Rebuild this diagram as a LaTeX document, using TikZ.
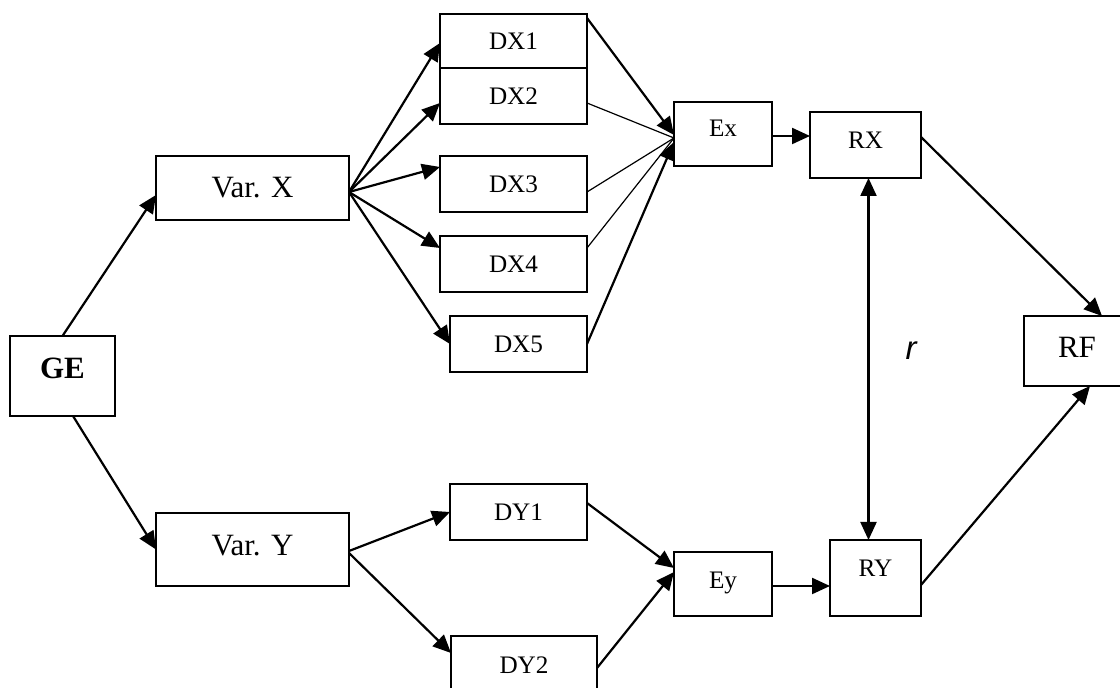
\documentclass[tikz,border=0pt]{standalone}
\usepackage{fontspec}
\setmainfont{Liberation Serif}
\newfontfamily\corrFont{Liberation Sans}
\usepackage{tikz}
\usetikzlibrary{arrows.meta, calc, positioning}
\newcommand{\bigLabelSize}{\fontsize{15.5}{18}\selectfont}
\newcommand{\smallLabelSize}{\fontsize{12.6}{15}\selectfont}
\tikzstyle{block}=[draw, line width=1pt, inner sep=0pt, outer sep=0pt]
\tikzstyle{bigBlock}=[block, font=\bigLabelSize]
\tikzstyle{smallBlock}=[block, font=\smallLabelSize]
\tikzstyle{arrow}=[-{Triangle[length=9pt, width=8pt]}, line width=1.1pt]
\tikzstyle{dblArrow}=[{Triangle[length=9pt, width=8pt]}-{Triangle[length=9pt, width=8pt]}, line width=1.1pt]
\tikzstyle{thinLine}=[line width=0.6pt]
\tikzstyle{plainLine}=[line width=1.1pt]

\begin{document}
\begin{tikzpicture}[x=0.5pt, y=-0.5pt]
  \clip (0,0) rectangle (1120,688);
  \node[bigBlock, minimum width=52.5pt, minimum height=40pt, text depth=8pt,
    font=\bigLabelSize\bfseries] (ge) at (62.5,376) {GE};
  \node[bigBlock, minimum width=96.5pt, minimum height=32pt] (varx) at (252.5,188) {Var. X};
  \node[bigBlock, minimum width=96.5pt, minimum height=36.5pt, text depth=4.5pt] (vary) at (252.5,549.5) {Var. Y};

  \node[smallBlock, minimum width=73.5pt, minimum height=27pt] (dx1) at (513.5,41) {DX1};
  \node[smallBlock, minimum width=73.5pt, minimum height=28pt] (dx2) at (513.5,96) {DX2};
  \node[smallBlock, minimum width=73.5pt, minimum height=28pt] (dx3) at (513.5,184) {DX3};
  \node[smallBlock, minimum width=73.5pt, minimum height=28pt] (dx4) at (513.5,264) {DX4};
  \node[smallBlock, minimum width=68.5pt, minimum height=28pt] (dx5) at (518.5,344) {DX5};
  \node[smallBlock, minimum width=68.5pt, minimum height=28pt] (dy1) at (518.5,512) {DY1};
  \node[smallBlock, minimum width=73pt, minimum height=29pt] (dy2) at (524,665) {DY2};

  \node[smallBlock, minimum width=49pt, minimum height=32pt, text depth=6pt] (ex) at (723,134) {Ex};
  \node[smallBlock, minimum width=49pt, minimum height=32pt, text depth=4pt] (ey) at (723,584) {Ey};
  \node[smallBlock, minimum width=55.5pt, minimum height=33pt, text depth=5pt] (rx) at (865.5,145) {RX};
  \node[smallBlock, minimum width=45.5pt, minimum height=38pt, text depth=10pt] (ry) at (875.5,578) {RY};
  \node[bigBlock, minimum width=53pt, minimum height=35pt, text depth=4pt] (rf) at (1077,351) {RF};

  \node[font=\fontsize{16.5}{19}\corrFont\itshape] (corr) at (911,351) {r};

  \draw[arrow] (ge.north) -- ([yshift=-3.5pt]varx.west);
  \draw[arrow] ([xshift=5.25pt]ge.south) -- (vary.west);

  \draw[arrow] ([yshift=-2pt]varx.east) -- ([yshift=-1pt]dx1.west);
  \draw[arrow] ([yshift=-2pt]varx.east) -- ([yshift=-3.5pt]dx2.west);
  \draw[arrow] ([yshift=-2pt]varx.east) -- ([yshift=8.5pt]dx3.west);
  \draw[arrow] ([yshift=-2pt]varx.east) -- ([yshift=8pt]dx4.west);
  \draw[arrow] ([yshift=-2pt]varx.east) -- (dx5.west);

  \draw[arrow] ([yshift=-2pt]dx1.north east) -- ([yshift=-0.5pt]ex.west);
  \draw[thinLine] ([yshift=-3.5pt]dx2.east) -- ([yshift=-2pt]ex.west);
  \draw[thinLine] ([yshift=-4pt]dx3.east) -- ([yshift=-2pt]ex.west);
  \draw[thinLine] ([yshift=8pt]dx4.east) -- ([yshift=-2pt]ex.west);
  \draw[arrow] (dx5.east) -- ([yshift=-4pt]ex.west);

  \draw[arrow] ([yshift=-1pt]ex.east) -- ([yshift=-1pt]ex.east -| rx.west);
  \draw[arrow] ([yshift=4pt]rx.east) -- ([xshift=12.5pt]rf.north);
  \draw[dblArrow] ([xshift=1.5pt]rx.south) -- ([xshift=-3.5pt]ry.north);
  \draw[arrow] ([yshift=-3.5pt]ry.east) -- ([xshift=6.5pt]rf.south);

  \draw[arrow] ([yshift=-0.75pt]vary.east) -- (dy1.west);
  \draw[arrow] ([yshift=-1.75pt]vary.east) -- ([yshift=6pt]dy2.west);
  \draw[arrow] ([yshift=4.5pt]dy1.east) -- ([yshift=8pt]ey.west);
  \draw[arrow] ([yshift=-1.5pt]dy2.east) -- ([yshift=6pt]ey.west);
  \draw[arrow] ([yshift=-1pt]ey.east) -- ([yshift=-1pt]ey.east -| ry.west);
\end{tikzpicture}
\end{document}
